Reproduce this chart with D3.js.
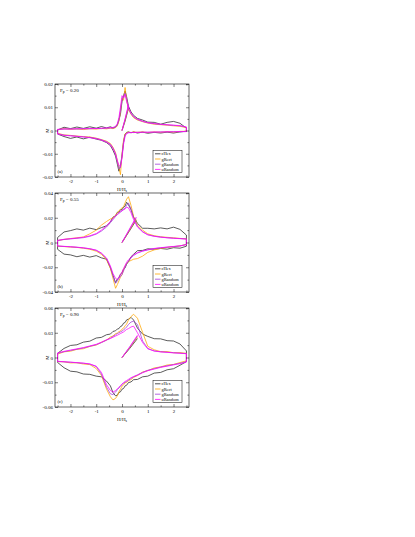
<!DOCTYPE html>
<html>
<head>
<meta charset="utf-8">
<script src="https://cdn.jsdelivr.net/npm/d3@7"></script>
<style>
body{margin:0;background:#fff}
svg{display:block}
text{font-family:"Liberation Serif","DejaVu Serif",serif;fill:#000}
</style>
</head>
<body>
<svg id="fig" width="415" height="537"></svg>
<script>
// field grid (H/Hs) shared by every branch, M values in units of 1e-3
var fieldH = [-2.5,-2.25,-2,-1.75,-1.5,-1.25,-1,-0.8,-0.6,-0.45,-0.35,-0.25,-0.18,-0.12,-0.06,0,0.06,0.12,0.18,0.25,0.35,0.45,0.6,0.8,1,1.25,1.5,1.75,2,2.25,2.5];

var seriesNames = ["cHex","gRect","gRandom","uRandom"];
var seriesColors = ["#262626","#ffa500","#a040d8","#ff00ff"];

var xTicks = [-2,-1,0,1,2];
var xTickLabels = ["-2","-1","0","1","2"];
var xMinor = [-2.5,-1.5,-0.5,0.5,1.5,2.5];

// (a) Fp = 0.20
var aTicks = [20,10,0,-10,-20];
var aTickLabels = ["0.02","0.01","0","-0.01","-0.02"];
var aMinor = [15,5,-5,-15];
var aHexUp = [0.2,1.4,0.8,1.5,0.9,1.6,1.0,1.7,1.1,1.6,1.1,1.5,2.5,4.5,7,12.5,15,17,14.5,10.5,8,6.5,5.2,4.5,3.6,3.5,2.7,3.5,3.9,3.1,1.0];
var aHexLo = [-1.5,-2.6,-3.4,-2.8,-3.6,-2.9,-3.7,-4.2,-5.2,-6.5,-8.5,-11,-14.5,-17.5,-15,-11,-5,-1.5,-0.8,-0.6,-1.0,-0.6,-1.1,-0.7,-1.2,-0.8,-1.1,-0.7,-1.1,-0.6,-0.3];
var aRectUp = [0.3,0.8,0.5,0.7,0.4,0.8,0.6,0.9,0.7,1.0,0.8,1.2,2.0,4.0,8.0,14,13,18.5,13,9,7,5.5,4.5,3.8,3.2,2.7,2.5,2.3,2.0,1.8,1.2];
var aRectLo = [-1.2,-1.9,-2.1,-2.4,-2.6,-2.8,-3.3,-3.9,-4.6,-5.6,-7.2,-9.5,-13,-16,-19,-10,-4,-1.5,-0.9,-0.7,-0.9,-0.6,-0.8,-0.6,-0.9,-0.6,-0.8,-0.5,-0.7,-0.4,-0.3];
var aGRandUp = [0.4,0.6,0.7,0.6,0.8,0.7,0.9,0.8,1.0,1.1,1.0,1.4,2.4,4.5,8.5,13,14.5,16,13.5,9.5,7.2,5.8,4.7,3.9,3.3,2.9,2.6,2.4,2.2,2.0,1.4];
var aGRandLo = [-1.4,-2.0,-2.2,-2.5,-2.7,-3.0,-3.4,-4.0,-4.8,-5.9,-7.5,-10,-13.5,-16.5,-16,-10.5,-5,-2,-1.1,-0.9,-0.8,-0.9,-0.7,-0.8,-0.7,-0.8,-0.6,-0.7,-0.5,-0.6,-0.4];
var aURandUp = [0.5,0.7,0.6,0.8,0.7,0.9,0.8,1.0,1.1,1.2,1.3,1.8,3.0,5.5,10,15,14,15.5,12.5,9.8,7.5,6.0,4.9,4.0,3.4,3.0,2.7,2.5,2.3,2.1,1.5];
var aURandLo = [-1.5,-2.1,-2.3,-2.5,-2.8,-3.1,-3.5,-4.1,-5.0,-6.1,-7.8,-10.2,-13,-15,-15.5,-12,-6,-2.5,-1.3,-1.0,-0.9,-0.8,-0.9,-0.7,-0.8,-0.6,-0.7,-0.5,-0.6,-0.4,-0.5];
var aVirH = [0,0.12,0.25];
var aVirHex = [0,4,9.5], aVirRect = [0,4.5,10], aVirGRand = [0,4.8,10.5], aVirURand = [0,5,11];

// (b) Fp = 0.55
var bTicks = [40,20,0,-20,-40];
var bTickLabels = ["0.04","0.02","0","-0.02","-0.04"];
var bMinor = [30,10,-10,-30];
var bHexUp = [4,8.5,9.6,11,10,11.6,10.4,12,13.5,16.5,20.5,21.5,24.5,24.5,26.5,26.5,28.5,29.5,32.5,30.5,26.5,20.5,15.5,11.5,11.5,11,11.8,11,12.4,10.6,6];
var bHexLo = [-5.5,-9.4,-10,-11.5,-10.4,-11.8,-10.6,-12.4,-13.5,-20.5,-26.5,-32.5,-29.5,-28.5,-25.5,-24.5,-21.5,-20.5,-17.5,-15.5,-11.5,-9.5,-6.6,-6.4,-5.1,-5.4,-4.8,-5.4,-4.2,-4.6,-3];
var bRectUp = [1.5,2.5,3.2,3.8,4.5,7,10,14,17,19,20,22,24,25.5,27,28,29,32,35,37,30,21,14,10,7,5.5,4.6,4.2,3.8,3.3,3];
var bRectLo = [-3,-3.3,-3.7,-4,-4.6,-5.5,-7,-9.5,-14,-21,-29,-37,-34,-31,-28,-26,-22,-19,-17,-15.5,-14.5,-13.5,-13,-11,-8,-6,-4.8,-4,-3.4,-2.8,-1.5];
var bGRandUp = [1.5,2.4,2.9,3.4,3.9,5,6.8,9.2,12.5,16,18.5,21,22.5,23.5,24.5,25.5,26.5,28,30,32,27,20,13,8.8,6.3,5.1,4.4,3.9,3.5,3.2,2.9];
var bGRandLo = [-2.9,-3.2,-3.5,-3.9,-4.4,-5.1,-6.3,-8.8,-13,-20,-27,-33,-31,-29,-27.5,-26,-23,-20,-17,-15,-12.5,-10.5,-8.5,-7,-6,-5,-4.3,-3.8,-3.3,-2.8,-1.5];
var bURandUp = [1.8,2.6,3.1,3.6,4.2,5.4,7.2,10,13.5,17,19.5,21.5,23,24,25,26,26.5,27,28.5,28,24,18.5,12.5,8.5,6.2,5,4.3,3.8,3.4,3.1,2.8];
var bURandLo = [-2.8,-3.1,-3.4,-3.8,-4.3,-5,-6.2,-8.5,-12.5,-19,-25,-29,-30,-28,-26,-24,-21,-18.5,-16,-14,-12,-10,-8.2,-6.8,-5.8,-4.8,-4.2,-3.7,-3.2,-2.7,-1.8];
var bVirH = [0,0.28,0.55];
var bVirHex = [0,9,18], bVirRect = [0,9.5,19], bVirGRand = [0,10,20], bVirURand = [0,10.5,20.5];

// (c) Fp = 0.90
var cTicks = [60,30,0,-30,-60];
var cTickLabels = ["0.06","0.03","0","-0.03","-0.06"];
var cMinor = [45,15,-15,-45];
var cHexUp = [5,11,14.6,15.4,18.6,19.8,23.6,24.4,27.6,28.4,31.6,32.4,34.6,35,37.6,38.4,41.6,42.4,45.6,46.4,48.6,45.4,35.6,28.4,25.6,22.8,22.6,20.4,20,16.4,8];
var cHexLo = [-6,-12.4,-16.6,-17.4,-20,-20.4,-22.6,-23.4,-28.6,-34.4,-42.6,-46.4,-45.6,-42.4,-41.6,-38.4,-37.6,-34.4,-33.6,-30.4,-29.6,-26.9,-26.6,-23.4,-22.6,-18.9,-18.1,-14.9,-13.6,-9.4,-5];
var cRectUp = [4,6.9,7.6,9.9,10.6,13.4,15.1,18.4,21.1,24.9,26.1,28.9,29.6,31.4,32.1,34.4,35.6,38.4,40.6,45.4,49.6,52.4,47.6,30.4,13.6,9.4,7.1,7.2,5.8,6,5];
var cRectLo = [-5,-5.2,-6.6,-6.4,-7.9,-8.6,-13.4,-21.6,-38.4,-47.6,-51.4,-49.6,-46.4,-41.6,-38.4,-34.6,-33.4,-30.6,-30.4,-28.1,-26.9,-24.1,-21.9,-17.6,-15.9,-12.6,-11.4,-9.1,-8.4,-6.1,-4];
var cGRandUp = [5,7,8.5,10,11.5,13.5,15.5,18,21,23.5,25.5,27.5,29,30,31,32,33.5,35,37,40,43,44,40,20,11,8,7,6.4,5.8,5.3,4.8];
var cGRandLo = [-4.8,-5.3,-5.8,-6.4,-7,-8,-11,-20,-36,-44,-45,-42,-39,-37,-35,-33,-31,-30,-29,-27.5,-25.5,-23.5,-21,-18,-15.5,-13.5,-11.5,-10,-8.5,-7,-5];
var cURandUp = [5.5,7.5,9,10.5,12,14,16,18.5,21.5,23,24.5,26,27,28,29,30,31,32.5,34,35,37,38,30,18,10.5,7.8,6.8,6.2,5.6,5.1,4.6];
var cURandLo = [-4.6,-5.1,-5.6,-6.2,-6.8,-7.8,-10.5,-18,-33,-40,-42,-40,-38,-36,-34,-32,-30.5,-29,-28,-26.5,-24.5,-23,-21.5,-18.5,-16,-14,-12,-10.5,-9,-7.5,-5.5];
var cVirH = [0,0.3,0.6];
var cVirHex = [0,11,23], cVirRect = [0,12,25], cVirGRand = [0,12.5,26], cVirURand = [0,13,27];

var panels = [
  {tag:"(a)", fp:"0.20", yMax:20, ticks:aTicks, tickLabels:aTickLabels, minor:aMinor,
   up:[aHexUp,aRectUp,aGRandUp,aURandUp], lo:[aHexLo,aRectLo,aGRandLo,aURandLo],
   virH:aVirH, vir:[aVirHex,aVirRect,aVirGRand,aVirURand]},
  {tag:"(b)", fp:"0.55", yMax:40, ticks:bTicks, tickLabels:bTickLabels, minor:bMinor,
   up:[bHexUp,bRectUp,bGRandUp,bURandUp], lo:[bHexLo,bRectLo,bGRandLo,bURandLo],
   virH:bVirH, vir:[bVirHex,bVirRect,bVirGRand,bVirURand]},
  {tag:"(c)", fp:"0.90", yMax:60, ticks:cTicks, tickLabels:cTickLabels, minor:cMinor,
   up:[cHexUp,cRectUp,cGRandUp,cURandUp], lo:[cHexLo,cRectLo,cGRandLo,cURandLo],
   virH:cVirH, vir:[cVirHex,cVirRect,cVirGRand,cVirURand]}
];

var svg = d3.select("#fig");
var frameLeft = 55, frameRight = 189;
var panelTop = [84, 193, 308];
var panelBottom = [177, 292, 407];

var drawPanel = function(p, i)
{
    var top = panelTop[i], bottom = panelBottom[i];
    var x = d3.scaleLinear().domain([-2.6, 2.6]).range([frameLeft, frameRight]);
    var y = d3.scaleLinear().domain([-p.yMax, p.yMax]).range([bottom, top]);
    var g = svg.append("g").classed("panel", true);

    var line = d3.line()
        .x(function(d){return x(d[0])})
        .y(function(d){return y(d[1])});

    // loops: ascending branch then descending branch back
    seriesNames.forEach(function(name, k)
    {
        var lo = fieldH.map(function(h, j){return [h, p.lo[k][j]]});
        var up = fieldH.map(function(h, j){return [h, p.up[k][j]]}).reverse();
        g.append("path")
            .attr("d", line(lo.concat(up)) + "Z")
            .attr("fill", "none")
            .attr("stroke", seriesColors[k])
            .attr("stroke-width", 0.75)
            .attr("stroke-linejoin", "round");
        g.append("path")
            .attr("d", line(p.virH.map(function(h, j){return [h, p.vir[k][j]]})))
            .attr("fill", "none")
            .attr("stroke", seriesColors[k])
            .attr("stroke-width", 0.75);
    });

    // frame
    g.append("rect")
        .attr("x", frameLeft).attr("y", top)
        .attr("width", frameRight - frameLeft).attr("height", bottom - top)
        .attr("fill", "none").attr("stroke", "#000").attr("stroke-width", 0.6);

    var addAxis = function(axis, tx, ty)
    {
        var a = g.append("g")
            .attr("transform", "translate(" + tx + "," + ty + ")")
            .call(axis);
        a.select(".domain").remove();
        a.selectAll("line").attr("stroke", "#000").attr("stroke-width", 0.5);
        a.selectAll("text")
            .attr("font-family", '"Liberation Serif", serif')
            .attr("font-size", 5);
        a.attr("font-family", null).attr("font-size", null);
        return a;
    };

    addAxis(d3.axisBottom(x).tickValues(xTicks).tickSize(-3).tickPadding(2.2)
        .tickFormat(function(d, j){return xTickLabels[j]}), 0, bottom);
    addAxis(d3.axisBottom(x).tickValues(xMinor).tickSize(-1.6).tickFormat(""), 0, bottom);
    addAxis(d3.axisTop(x).tickValues(xTicks).tickSize(-3).tickFormat(""), 0, top);
    addAxis(d3.axisTop(x).tickValues(xMinor).tickSize(-1.6).tickFormat(""), 0, top);
    addAxis(d3.axisLeft(y).tickValues(p.ticks).tickSize(-3).tickPadding(2)
        .tickFormat(function(d, j){return p.tickLabels[j]}), frameLeft, 0);
    addAxis(d3.axisLeft(y).tickValues(p.minor).tickSize(-1.6).tickFormat(""), frameLeft, 0);
    addAxis(d3.axisRight(y).tickValues(p.ticks).tickSize(-3).tickFormat(""), frameRight, 0);
    addAxis(d3.axisRight(y).tickValues(p.minor).tickSize(-1.6).tickFormat(""), frameRight, 0);

    // axis titles
    var xt = g.append("text")
        .attr("x", (frameLeft + frameRight) / 2)
        .attr("y", bottom + 13.5)
        .attr("text-anchor", "middle")
        .attr("font-size", 5);
    xt.append("tspan").text("H/H");
    xt.append("tspan").text("s").attr("font-size", 3.6).attr("dy", 1.3);

    g.append("text")
        .text("M")
        .attr("font-size", 5)
        .attr("text-anchor", "middle")
        .attr("transform", "translate(47," + y(0) + ") rotate(-90)")
        .attr("dy", "0.35em");

    // Fp annotation and panel tag
    var ft = g.append("text")
        .attr("x", frameLeft + 5)
        .attr("y", top + 8)
        .attr("font-size", 5);
    ft.append("tspan").text("F");
    ft.append("tspan").text("p").attr("font-size", 3.6).attr("dy", 1.3);
    ft.append("tspan").text(" = " + p.fp).attr("dy", -1.3);

    g.append("text")
        .text(p.tag)
        .attr("x", frameLeft + 2.5)
        .attr("y", bottom - 4)
        .attr("font-size", 4.6);

    // legend
    var lx = 153, ly = bottom - 26.5;
    g.append("rect")
        .attr("x", lx).attr("y", ly).attr("width", 29).attr("height", 22)
        .attr("fill", "#fff").attr("stroke", "#000").attr("stroke-width", 0.5);
    seriesNames.forEach(function(name, k)
    {
        var cy = ly + 3.3 + k * 5.2;
        g.append("line")
            .attr("x1", lx + 2).attr("x2", lx + 7.5)
            .attr("y1", cy).attr("y2", cy)
            .attr("stroke", seriesColors[k]).attr("stroke-width", 0.8);
        g.append("text")
            .text(name)
            .attr("x", lx + 8.5).attr("y", cy)
            .attr("dy", "0.35em")
            .attr("font-size", 4.4);
    });
};

panels.forEach(drawPanel);
</script>
</body>
</html>
